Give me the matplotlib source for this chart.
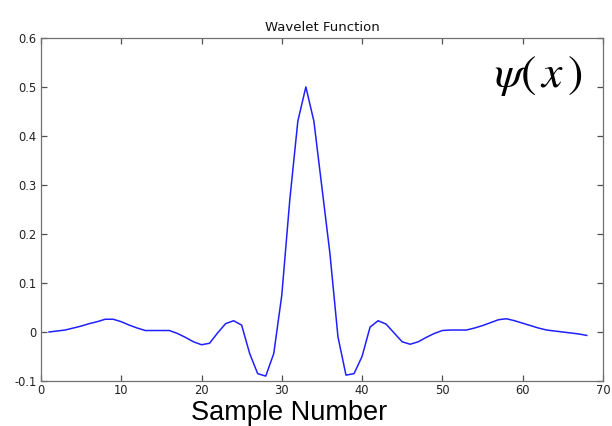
import matplotlib
matplotlib.use("Agg")
import matplotlib.pyplot as plt

# Data
samples = list(range(1, 69))
psi = [0.000, 0.002, 0.004, 0.008, 0.012, 0.017, 0.021, 0.026, 0.026, 0.021,
       0.014, 0.008, 0.003, 0.003, 0.003, 0.003, -0.003, -0.011, -0.020, -0.026,
       -0.023, -0.002, 0.017, 0.023, 0.014, -0.044, -0.085, -0.090, -0.044, 0.075,
       0.270, 0.430, 0.500, 0.430, 0.295, 0.160, -0.010, -0.088, -0.085, -0.050,
       0.010, 0.023, 0.016, -0.002, -0.020, -0.025, -0.020, -0.011, -0.003, 0.003,
       0.004, 0.004, 0.004, 0.008, 0.013, 0.019, 0.025, 0.027, 0.023, 0.018,
       0.013, 0.008, 0.004, 0.002, 0.000, -0.002, -0.004, -0.007]

xticks = [0, 10, 20, 30, 40, 50, 60, 70]
yticks = [-0.1, 0, 0.1, 0.2, 0.3, 0.4, 0.5, 0.6]
ytick_labels = ["-0.1", "0", "0.1", "0.2", "0.3", "0.4", "0.5", "0.6"]

plt.rcParams['font.family'] = ['DejaVu Sans']
plt.rcParams['mathtext.fontset'] = 'stix'

fig = plt.figure(figsize=(6.12, 4.26), dpi=100)
ax = fig.add_axes([0.067, 0.1056, 0.918, 0.8055])

ax.plot(samples, psi, color='#2020ff', linewidth=1.1)

ax.set_xlim(0, 70)
ax.set_ylim(-0.1, 0.6)
ax.set_xticks(xticks)
ax.set_xticklabels([str(t) for t in xticks])
ax.set_yticks(yticks)
ax.set_yticklabels(ytick_labels)

for s in ax.spines.values():
    s.set_color('#707070')
    s.set_linewidth(0.9)
ax.tick_params(direction='in', length=4, width=0.9, color='#505050',
               labelsize=8.3, labelcolor='#222222', top=True, right=True)
ax.tick_params(axis='x', pad=2)
ax.tick_params(axis='y', pad=3)

ax.set_title("Wavelet Function", fontsize=9.5, pad=5, color='#111111')
ax.text(0.885, 0.89, r'$\psi(\,x\,)$', transform=ax.transAxes, fontsize=33,
        ha='center', va='center', color='black')
fig.text(0.472, 6 / 426, "Sample Number", family='Liberation Sans',
         fontsize=19.5, ha='center', va='baseline', color='black')

fig.savefig("out.png", dpi=100)
